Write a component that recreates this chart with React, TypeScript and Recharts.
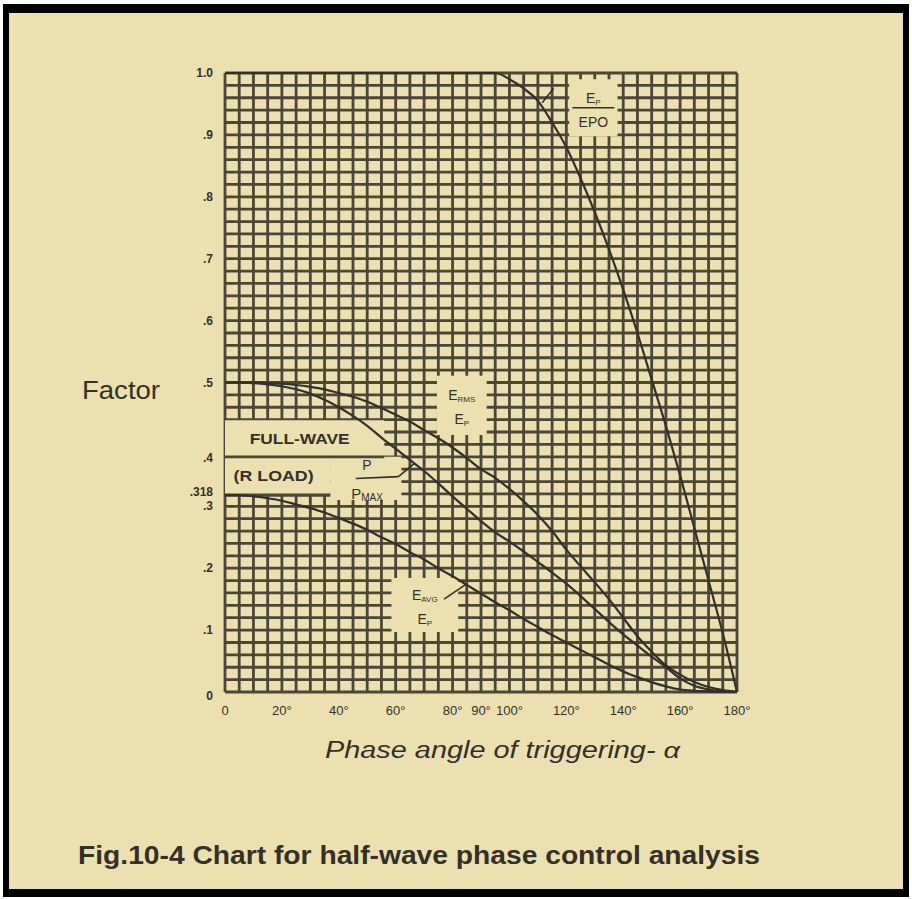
import React from 'react';
import { ComposedChart, Line, XAxis, YAxis, CartesianGrid, ReferenceArea, ReferenceLine } from 'recharts';

// phase angle of triggering, degrees
const angles = [0, 5, 10, 15, 20, 25, 30, 35, 40, 45, 50, 55, 60, 65, 70, 75, 80, 85, 90,
  95, 100, 105, 110, 115, 120, 125, 130, 135, 140, 145, 150, 155, 160, 165, 170, 175, 180];

const epOverEpo = [1, 1, 1, 1, 1, 1, 1, 1, 1, 1, 1, 1, 1, 1, 1, 1, 1, 1, 1,
  1, 0.99, 0.975, 0.955, 0.92, 0.88, 0.83, 0.775, 0.715, 0.65, 0.58, 0.505, 0.43, 0.35, 0.265, 0.18, 0.095, 0];
const ermsOverEp = [0.5, 0.5, 0.5, 0.499, 0.498, 0.496, 0.493, 0.489, 0.483, 0.477, 0.469, 0.459, 0.448, 0.437, 0.423, 0.41, 0.395, 0.378, 0.36,
  0.346, 0.328, 0.308, 0.286, 0.26, 0.23, 0.203, 0.177, 0.15, 0.12, 0.09, 0.065, 0.043, 0.028, 0.016, 0.008, 0.003, 0];
const pOverPmax = [0.5, 0.5, 0.499, 0.497, 0.494, 0.489, 0.482, 0.472, 0.46, 0.446, 0.43, 0.411, 0.393, 0.375, 0.357, 0.337, 0.316, 0.296, 0.276,
  0.258, 0.243, 0.227, 0.21, 0.193, 0.175, 0.155, 0.134, 0.113, 0.093, 0.075, 0.057, 0.04, 0.022, 0.01, 0.004, 0.001, 0];
const eavgOverEp = [0.318, 0.318, 0.316, 0.313, 0.309, 0.303, 0.297, 0.29, 0.281, 0.272, 0.262, 0.25, 0.239, 0.226, 0.214, 0.2, 0.187, 0.173, 0.159,
  0.145, 0.132, 0.118, 0.105, 0.092, 0.08, 0.068, 0.056, 0.044, 0.033, 0.024, 0.016, 0.009, 0.004, 0.002, 0.001, 0, 0];

const xTicks = [0, 20, 40, 60, 80, 90, 100, 120, 140, 160, 180];
const xTickLabels = ['0', '20°', '40°', '60°', '80°', '90°', '100°', '120°', '140°', '160°', '180°'];
const yTicks = [0, 0.1, 0.2, 0.3, 0.318, 0.4, 0.5, 0.6, 0.7, 0.8, 0.9, 1];
const yTickLabels = ['0', '.1', '.2', '.3', '.318', '.4', '.5', '.6', '.7', '.8', '.9', '1.0'];

// graph paper: 5 degree columns, 0.02 rows
const gridX = Array.from({ length: 37 }, (_, i) => i * 5);
const gridY = Array.from({ length: 51 }, (_, i) => Math.round(i * 2) / 100);

const data = angles.map((a, i) => ({
  a,
  ep: epOverEpo[i],
  rms: ermsOverEp[i],
  p: pOverPmax[i],
  avg: eavgOverEp[i],
}));

const BG = '#ece0b1';
const INK = '#33302a';
const GRID = '#4b4737';
const FONT = "'Liberation Sans', Arial, sans-serif";

const YTick = (props: any) => {
  const { x, y, payload } = props;
  const i = yTicks.indexOf(payload.value);
  let dy = 0;
  if (payload.value === 0.4) dy = 14;
  if (payload.value === 0.318) dy = -3;
  if (payload.value === 0) dy = 4;
  return (
    <text x={x - 4} y={y + dy + 4} textAnchor="end" fontSize={12} fontWeight="bold" fill={INK} fontFamily={FONT}>
      {yTickLabels[i]}
    </text>
  );
};

const XTick = (props: any) => {
  const { x, y, payload } = props;
  const i = xTicks.indexOf(payload.value);
  return (
    <text x={x} y={y + 15} textAnchor="middle" fontSize={13} fill={INK} fontFamily={FONT}>
      {xTickLabels[i]}
    </text>
  );
};

// stacked fraction label drawn inside a cleared box
const Frac = (props: any) => {
  const { viewBox, top, topSub, bot, botSub, bar } = props;
  const cx = viewBox.x + viewBox.width / 2;
  const cy = viewBox.y + viewBox.height / 2;
  return (
    <g fontFamily={FONT} fill={INK}>
      <text x={cx} y={cy - 5} textAnchor="middle" fontSize={14}>
        {top}<tspan fontSize={8} dy={2}>{topSub}</tspan>
      </text>
      {bar && <line x1={cx - 21} x2={cx + 21} y1={cy} y2={cy} stroke={INK} strokeWidth={1.5} />}
      <text x={cx} y={cy + 19} textAnchor="middle" fontSize={14}>
        {bot}<tspan fontSize={8} dy={2}>{botSub}</tspan>
      </text>
    </g>
  );
};

const BoxText = (props: any) => {
  const { viewBox, text, dx = 0, len } = props;
  return (
    <text x={viewBox.x + viewBox.width / 2 + dx - len / 2} y={viewBox.y + viewBox.height / 2 + 5}
      fontSize={14} fontWeight="bold" fill={INK} fontFamily={FONT} textLength={len} lengthAdjust="spacingAndGlyphs">
      {text}
    </text>
  );
};

const PLabel = (props: any) => {
  const { viewBox } = props;
  const x = viewBox.x;
  const y = viewBox.y;
  return (
    <g fontFamily={FONT} fill={INK}>
      <text x={x + 32} y={y + 13} fontSize={14}>P</text>
      <text x={x + 21} y={y + 42} fontSize={15}>P<tspan fontSize={10} dy={2}>MAX</tspan></text>
    </g>
  );
};

export default function App() {
  return (
    <div style={{ position: 'absolute', left: 0, top: 0, width: 912, height: 899, background: '#fff' }}>
      <div style={{
        position: 'absolute', left: 3, top: 4, width: 906, height: 893, boxSizing: 'border-box',
        background: BG, borderStyle: 'solid', borderColor: '#000',
        borderTopWidth: 9, borderLeftWidth: 6, borderRightWidth: 6, borderBottomWidth: 8,
      }} />
      <div style={{ position: 'absolute', left: 0, top: 0 }}>
        <ComposedChart width={912} height={899} data={data}
          margin={{ top: 73, right: 175, bottom: 177, left: 185 }}>
          <CartesianGrid stroke={GRID} strokeWidth={2.8} verticalValues={gridX} horizontalValues={gridY} />
          <XAxis dataKey="a" type="number" domain={[0, 180]} ticks={xTicks} interval={0}
            axisLine={false} tickLine={false} height={30} tick={<XTick />} />
          <YAxis type="number" domain={[0, 1]} ticks={yTicks} interval={0}
            axisLine={false} tickLine={false} width={40} tick={<YTick />} />

          <ReferenceArea x1={0} x2={56} y1={0.38} y2={0.439} fill={BG} fillOpacity={1} stroke="none"
            label={<BoxText text="FULL-WAVE" dx={-5} len={100} />} />
          <ReferenceArea x1={0} x2={37} y1={0.318} y2={0.38} fill={BG} fillOpacity={1} stroke="none"
            label={<BoxText text="(R LOAD)" dx={-4} len={80} />} />
          <ReferenceArea x1={37} x2={62} y1={0.31} y2={0.38} fill={BG} fillOpacity={1} stroke="none"
            label={<PLabel />} />
          <ReferenceLine segment={[{ x: 0, y: 0.38 }, { x: 56, y: 0.38 }]} stroke={GRID} strokeWidth={2.8} />
          <ReferenceLine segment={[{ x: 0, y: 0.318 }, { x: 37, y: 0.318 }]} stroke={GRID} strokeWidth={3.2} />
          <ReferenceLine segment={[{ x: 46, y: 0.345 }, { x: 61, y: 0.348 }]} stroke={INK} strokeWidth={1.6} />
          <ReferenceLine segment={[{ x: 61, y: 0.348 }, { x: 66.5, y: 0.369 }]} stroke={INK} strokeWidth={1.6} />

          <ReferenceArea x1={74.5} x2={92} y1={0.415} y2={0.511} fill={BG} fillOpacity={1} stroke="none"
            label={<Frac top="E" topSub="RMS" bot="E" botSub="P" />} />
          <ReferenceArea x1={121} x2={138} y1={0.898} y2={0.99} fill={BG} fillOpacity={1} stroke="none"
            label={<Frac top="E" topSub="P" bot="EPO" botSub="" bar />} />
          <ReferenceLine segment={[{ x: 111.5, y: 0.952 }, { x: 115.5, y: 0.975 }]} stroke={INK} strokeWidth={1.6} />
          <ReferenceArea x1={58.5} x2={82} y1={0.097} y2={0.184} fill={BG} fillOpacity={1} stroke="none"
            label={<Frac top="E" topSub="AVG" bot="E" botSub="P" />} />
          <ReferenceLine segment={[{ x: 77, y: 0.15 }, { x: 84.7, y: 0.174 }]} stroke={INK} strokeWidth={1.6} />

          <Line dataKey="ep" type="monotone" stroke={INK} strokeWidth={2.2} dot={false} isAnimationActive={false} />
          <Line dataKey="rms" type="monotone" stroke={INK} strokeWidth={2.2} dot={false} isAnimationActive={false} />
          <Line dataKey="p" type="monotone" stroke={INK} strokeWidth={2.2} dot={false} isAnimationActive={false} />
          <Line dataKey="avg" type="monotone" stroke={INK} strokeWidth={2.2} dot={false} isAnimationActive={false} />
        </ComposedChart>
      </div>
      <svg width={912} height={899} style={{ position: 'absolute', left: 0, top: 0, pointerEvents: 'none' }}>
        <text x={82} y={399} fontSize={26} fill={INK} fontFamily={FONT} textLength={78} lengthAdjust="spacingAndGlyphs">Factor</text>
        <text x={325} y={758} fontSize={23} fontStyle="italic" fill={INK} fontFamily={FONT}
          textLength={355} lengthAdjust="spacingAndGlyphs">Phase angle of triggering- α</text>
        <text x={78} y={864} fontSize={25} fontWeight="bold" fill={INK} fontFamily={FONT}
          textLength={682} lengthAdjust="spacingAndGlyphs">Fig.10-4  Chart for half-wave phase control analysis</text>
      </svg>
    </div>
  );
}
